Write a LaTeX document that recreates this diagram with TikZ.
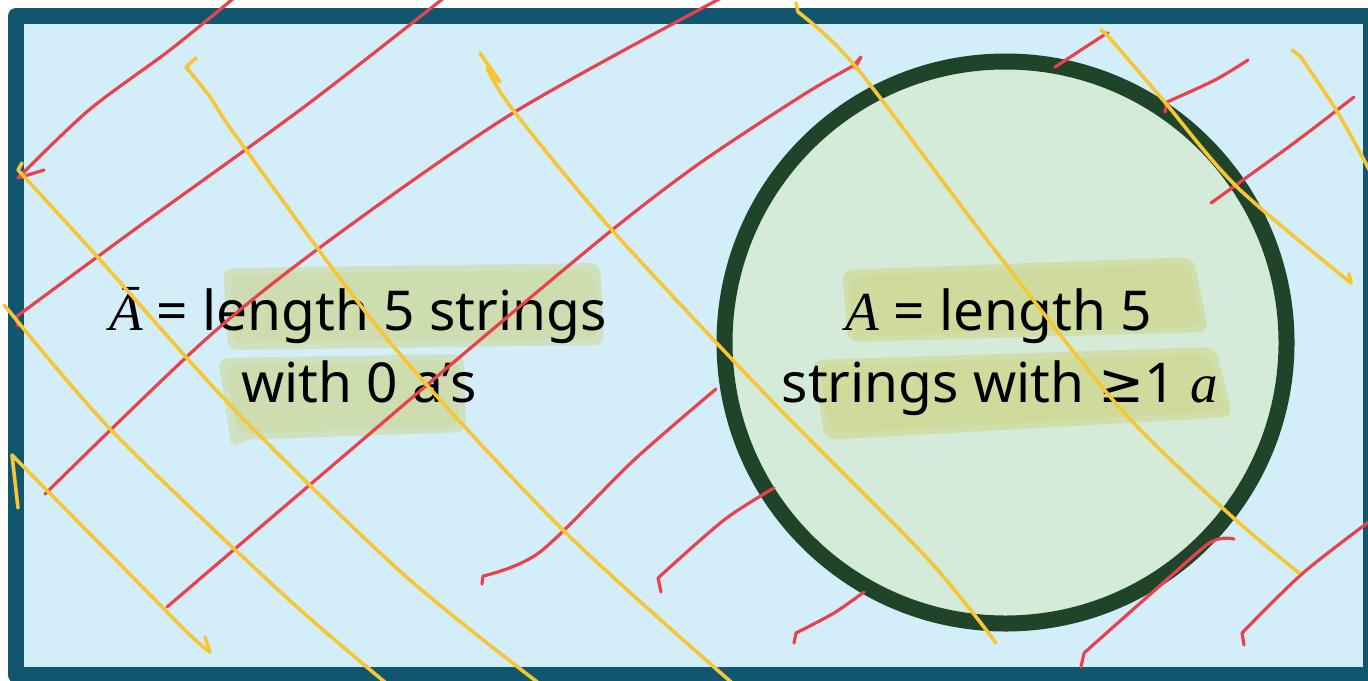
\documentclass[tikz,border=0pt]{standalone}
\usepackage{fontspec}
\setmainfont{Noto Sans}
\newfontfamily\varfont{Liberation Serif}
\newfontfamily\symfont{DejaVu Sans}
\newcommand{\setvar}[1]{{\varfont\itshape #1}}
\definecolor{frameblue}{HTML}{10566F}
\definecolor{skyfill}{HTML}{D3EEF8}
\definecolor{setgreen}{HTML}{1F4429}
\definecolor{setfill}{HTML}{D4EBD9}
\definecolor{inkred}{HTML}{E8424F}
\definecolor{inkyellow}{HTML}{F6C634}
\definecolor{marker}{HTML}{C8C640}

\begin{document}
\begin{tikzpicture}[x=0.5pt, y=-0.5pt,
  universe/.style={draw=frameblue, fill=skyfill, line width=8pt, line join=round,
    minimum width=677.5pt, minimum height=329.5pt, inner sep=0pt},
  setA/.style={circle, draw=setgreen, fill=setfill, line width=8pt, minimum size=281pt, inner sep=0pt},
  lbl/.style={anchor=base, inner sep=0pt, font=\fontsize{27.5}{36}\selectfont},
  hl/.style={fill=marker, fill opacity=0.3, rounded corners=5pt},
  hlcore/.style={fill=marker, fill opacity=0.12, rounded corners=5pt},
  redink/.style={draw=inkred, line width=1.6pt, line cap=round, line join=round},
  yellowink/.style={draw=inkyellow, line width=1.8pt, line cap=round, line join=round}]
\useasboundingbox (0,0) rectangle (1368,680);
\fill[white] (0,0) rectangle (1368,680);
\clip (0,0) rectangle (1368,680);

\node[universe] (U) at (693.5,345.5) {};
\node[setA] (A) at (1005.5,342.5) {};

% highlighter marks behind the labels
\fill[hl] (223,268) -- (600,263) -- (604,345) -- (228,350) -- cycle;
\fill[hlcore] (230,274) -- (594,270) -- (597,338) -- (234,343) -- cycle;
\fill[hl] (218,358) -- (464,354) -- (466,432) -- (241,440) -- (232,450) -- cycle;
\fill[hlcore] (225,364) -- (458,360) -- (459,426) -- (238,434) -- cycle;
\fill[hl] (842,270) -- (1193,257) -- (1209,332) -- (848,342) -- cycle;
\fill[hlcore] (849,276) -- (1188,264) -- (1201,326) -- (854,336) -- cycle;
\fill[hl] (812,360) -- (1215,347) -- (1233,417) -- (825,440) -- cycle;
\fill[hlcore] (819,366) -- (1209,354) -- (1225,411) -- (830,433) -- cycle;

\node[lbl] (notA1) at (358,330) {\setvar{\={A}} = length 5 strings};
\node[lbl] (notA2) at (359,402) {with 0 a’s};
\node[lbl] (inA1) at (999,330) {\setvar{A} = length 5};
\node[lbl] (inA2) at (1000,402) {strings with {\symfont ≥}1 \setvar{a}};

% red strokes
\draw[redink] (44,170) -- (18,178) plot[smooth, tension=0.5] coordinates {(18,178) (89,110) (170,50) (234,-2)};
\draw[redink] (18,326) -- (16,317) plot[smooth, tension=0.5] coordinates {(16,317) (134,230) (304,107) (445,-3)};
\draw[redink] plot[smooth, tension=0.5] coordinates {(45,494) (205,340) (326,243) (513,113) (725,-4)};
\draw[redink] plot[smooth, tension=0.5] coordinates {(167,607) (312,483) (480,340) (612,230) (700,163) (803,95) (853,66)} -- (861,57) -- (855,68);
\draw[redink] (482,584) -- (483,576) plot[smooth, tension=0.5] coordinates {(483,576) (540,552) (634,460) (716,389)};
\draw[redink] (661,592) -- (658,578) plot[smooth, tension=0.5] coordinates {(658,578) (724,520) (774,488)};
\draw[redink] (794,643) -- (796,633) plot[smooth, tension=0.5] coordinates {(796,633) (834,613) (864,592)};
\draw[redink] (1081,667) -- (1084,653) plot[smooth, tension=0.5] coordinates {(1084,653) (1163,583) (1211,542) (1234,539)};
\draw[redink] (1244,645) -- (1242,633) plot[smooth, tension=0.5] coordinates {(1242,633) (1303,573) (1374,518)};
\draw[redink] plot[smooth, tension=0.5] coordinates {(1055,67) (1101,37) (1108,33)};
\draw[redink] (1165,112) -- (1167,102) plot[smooth, tension=0.5] coordinates {(1167,102) (1215,80) (1248,60)};
\draw[redink] plot[smooth, tension=0.5] coordinates {(1211,203) (1294,143) (1354,97)};

% yellow strokes
\draw[yellowink] (22,163) -- (18,170) plot[smooth, tension=0.5] coordinates {(18,170) (94,253) (232,407) (402,573) (545,688)};
\draw[yellowink] (4,305) -- (10,312) plot[smooth, tension=0.5] coordinates {(10,312) (114,433) (286,597) (392,688)};
\draw[yellowink] (18,508) -- (12,455) plot[smooth, tension=0.5] coordinates {(12,455) (103,547) (188,633) (210,652)} -- (205,637);
\draw[yellowink] (196,58) -- (186,67) plot[smooth, tension=0.5] coordinates {(186,67) (210,97) (241,143) (388,340) (563,530) (738,688)};
\draw[yellowink] (480,53) -- (500,82) -- (487,68) plot[smooth, tension=0.5] coordinates {(487,68) (513,110) (612,230) (768,397) (926,557) (996,643)};
\draw[yellowink] (796,3) -- (798,12) plot[smooth, tension=0.5] coordinates {(798,12) (856,67) (987,240) (1119,407) (1228,513) (1299,573)};
\draw[yellowink] (1101,30) -- (1108,36) plot[smooth, tension=0.5] coordinates {(1108,36) (1163,100) (1237,187) (1351,283)} -- (1349,274);
\draw[yellowink] (1292,50) -- (1300,56) plot[smooth, tension=0.5] coordinates {(1300,56) (1338,113) (1372,175)};
\end{tikzpicture}
\end{document}
